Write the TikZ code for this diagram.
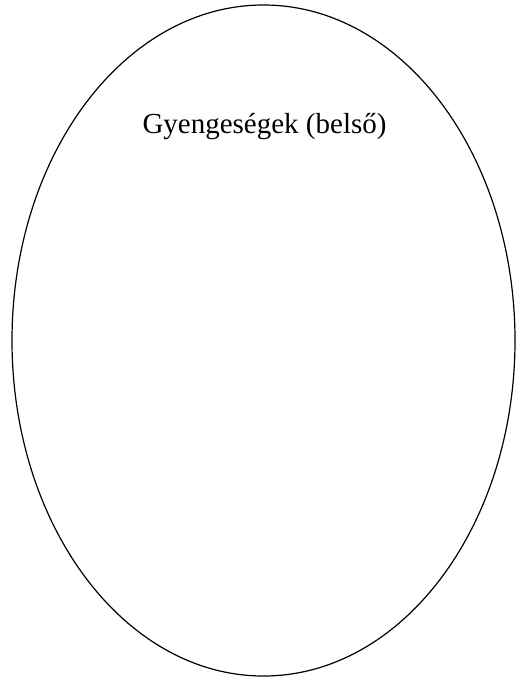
\documentclass[tikz,border=0pt]{standalone}
\usepackage{fontspec}
\setmainfont{Liberation Serif}
\usetikzlibrary{shapes.geometric}
\begin{document}
\begin{tikzpicture}[x=1pt,y=-1pt]
\useasboundingbox (0,0) rectangle (524,682);
\fill[white] (0,0) rectangle (524,682);
\node[draw=black, line width=1.2pt, ellipse, inner sep=0pt, minimum width=503pt, minimum height=671pt] (e) at (263.5,340.5) {};
\node[anchor=base, inner sep=0pt, font=\fontsize{29}{34}\selectfont] (t) at (264.5,133) {Gyengeségek (belső)};
\end{tikzpicture}
\end{document}
